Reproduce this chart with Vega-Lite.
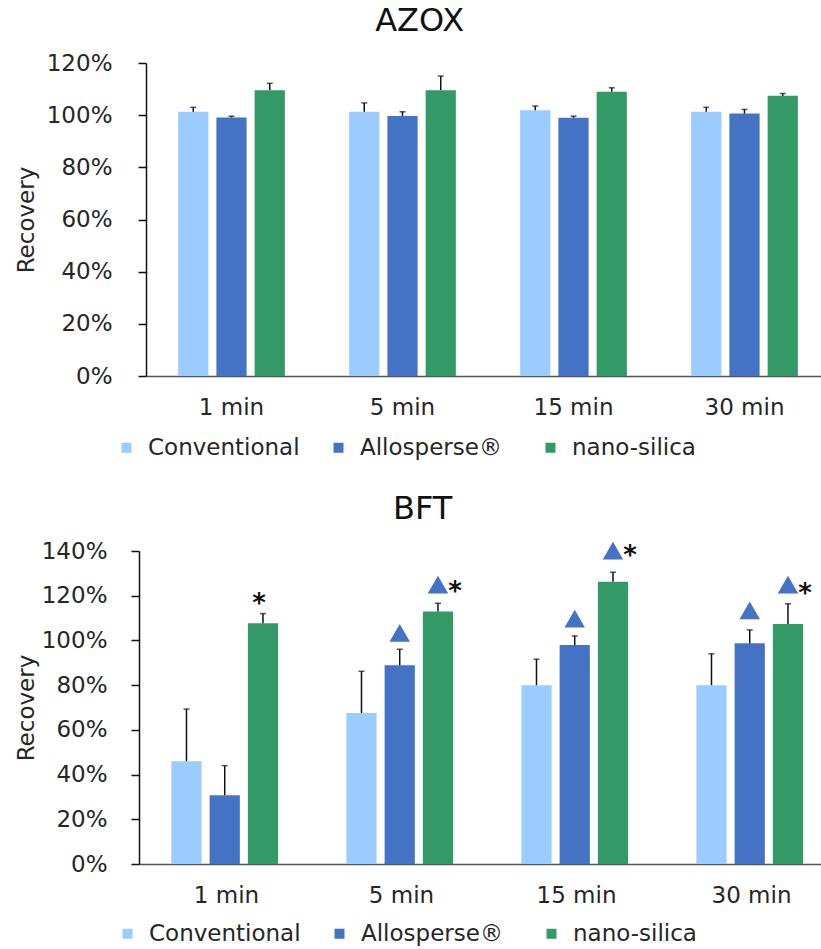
{
  "$schema": "https://vega.github.io/schema/vega-lite/v6.json",
  "background": "white",
  "padding": {"left": 15, "top": 5, "right": 0, "bottom": 0},
  "spacing": 33,
  "config": {
    "font": "DejaVu Sans",
    "view": {"stroke": null},
    "axisY": {
      "domainColor": "#111", "domainWidth": 1.5, "tickColor": "#111", "tickWidth": 1.5, "tickSize": 8,
      "labelFontSize": 23, "labelColor": "#262626", "grid": false,
      "titleFontSize": 23, "titleFontWeight": "normal", "titleColor": "#262626", "format": ".0%"
    },
    "axisX": {
      "domainColor": "#555", "domainWidth": 1.5, "ticks": false, "labelFontSize": 23, "labelColor": "#262626",
      "labelPadding": 20, "labelAngle": 0, "title": null, "grid": false
    },
    "legend": {
      "orient": "none", "direction": "horizontal", "columns": 3, "gridAlign": "all", "columnPadding": 27,
      "symbolType": "square", "symbolSize": 100, "symbolStrokeWidth": 0, "labelFontSize": 23, "labelOffset": 10,
      "labelColor": "#262626", "title": null
    },
    "title": {"fontSize": 32, "fontWeight": "normal", "color": "#111", "frame": "bounds", "anchor": "middle", "offset": 14}
  },
  "datasets": {
    "bars": [
      {"panel": "AZOX", "time": "1 min", "group": "Conventional", "recovery": 1.013, "upper": 1.03},
      {"panel": "AZOX", "time": "1 min", "group": "Allosperse®", "recovery": 0.991, "upper": 0.996},
      {"panel": "AZOX", "time": "1 min", "group": "nano-silica", "recovery": 1.096, "upper": 1.122},
      {"panel": "AZOX", "time": "5 min", "group": "Conventional", "recovery": 1.013, "upper": 1.047},
      {"panel": "AZOX", "time": "5 min", "group": "Allosperse®", "recovery": 0.997, "upper": 1.013},
      {"panel": "AZOX", "time": "5 min", "group": "nano-silica", "recovery": 1.096, "upper": 1.15},
      {"panel": "AZOX", "time": "15 min", "group": "Conventional", "recovery": 1.019, "upper": 1.035},
      {"panel": "AZOX", "time": "15 min", "group": "Allosperse®", "recovery": 0.99, "upper": 0.996},
      {"panel": "AZOX", "time": "15 min", "group": "nano-silica", "recovery": 1.09, "upper": 1.105},
      {"panel": "AZOX", "time": "30 min", "group": "Conventional", "recovery": 1.013, "upper": 1.03},
      {"panel": "AZOX", "time": "30 min", "group": "Allosperse®", "recovery": 1.006, "upper": 1.022},
      {"panel": "AZOX", "time": "30 min", "group": "nano-silica", "recovery": 1.074, "upper": 1.083},
      {"panel": "BFT", "time": "1 min", "group": "Conventional", "recovery": 0.46, "upper": 0.693},
      {"panel": "BFT", "time": "1 min", "group": "Allosperse®", "recovery": 0.308, "upper": 0.44},
      {"panel": "BFT", "time": "1 min", "group": "nano-silica", "recovery": 1.077, "upper": 1.12},
      {"panel": "BFT", "time": "5 min", "group": "Conventional", "recovery": 0.675, "upper": 0.862},
      {"panel": "BFT", "time": "5 min", "group": "Allosperse®", "recovery": 0.889, "upper": 0.96},
      {"panel": "BFT", "time": "5 min", "group": "nano-silica", "recovery": 1.129, "upper": 1.166},
      {"panel": "BFT", "time": "15 min", "group": "Conventional", "recovery": 0.8, "upper": 0.916},
      {"panel": "BFT", "time": "15 min", "group": "Allosperse®", "recovery": 0.979, "upper": 1.02},
      {"panel": "BFT", "time": "15 min", "group": "nano-silica", "recovery": 1.262, "upper": 1.305},
      {"panel": "BFT", "time": "30 min", "group": "Conventional", "recovery": 0.8, "upper": 0.94},
      {"panel": "BFT", "time": "30 min", "group": "Allosperse®", "recovery": 0.987, "upper": 1.047},
      {"panel": "BFT", "time": "30 min", "group": "nano-silica", "recovery": 1.074, "upper": 1.164}
    ],
    "markers": [
      {"time": "5 min", "group": "Allosperse®", "kind": "triangle", "y": 1.034},
      {"time": "15 min", "group": "Allosperse®", "kind": "triangle", "y": 1.098},
      {"time": "30 min", "group": "Allosperse®", "kind": "triangle", "y": 1.134},
      {"time": "5 min", "group": "nano-silica", "kind": "triangle", "y": 1.25},
      {"time": "15 min", "group": "nano-silica", "kind": "triangle", "y": 1.402},
      {"time": "30 min", "group": "nano-silica", "kind": "triangle", "y": 1.25},
      {"time": "1 min", "group": "nano-silica", "kind": "asterisk_alone", "y": 1.193},
      {"time": "5 min", "group": "nano-silica", "kind": "asterisk", "y": 1.25},
      {"time": "15 min", "group": "nano-silica", "kind": "asterisk", "y": 1.41},
      {"time": "30 min", "group": "nano-silica", "kind": "asterisk", "y": 1.237}
    ]
  },
  "resolve": {"scale": {"color": "independent"}, "legend": {"color": "independent"}},
  "vconcat": [
    {
      "title": {"text": "AZOX", "dx": -3},
      "width": 679,
      "height": 313,
      "data": {"name": "bars"},
      "transform": [{"filter": "datum.panel == 'AZOX'"}],
      "encoding": {
        "x": {"field": "time", "type": "nominal", "sort": ["1 min", "5 min", "15 min", "30 min"],
              "scale": {"range": [0, 684], "paddingInner": 0.376, "paddingOuter": 0.188}},
        "xOffset": {"field": "group", "type": "nominal",
                    "scale": {"domain": ["Conventional", "Allosperse®", "nano-silica"], "paddingInner": 0.21, "paddingOuter": 0}}
      },
      "layer": [
        {
          "mark": {"type": "bar"},
          "encoding": {
            "y": {"field": "recovery", "type": "quantitative", "scale": {"domain": [0, 1.2], "nice": false},
                  "axis": {"title": "Recovery", "values": [0, 0.2, 0.4, 0.6, 0.8, 1.0, 1.2], "labelPadding": 26, "titlePadding": 8}},
            "color": {"field": "group", "type": "nominal",
                      "scale": {"domain": ["Conventional", "Allosperse®", "nano-silica"], "range": ["#9CCBFF", "#4472C4", "#339966"]},
                      "legend": {"legendX": -31, "legendY": 373}}
          }
        },
        {
          "mark": {"type": "rule", "color": "#111", "strokeWidth": 1.5},
          "encoding": {"y": {"field": "recovery", "type": "quantitative"}, "y2": {"field": "upper"}}
        },
        {
          "mark": {"type": "tick", "color": "#111", "thickness": 1.5, "size": 6},
          "encoding": {"y": {"field": "upper", "type": "quantitative"}}
        }
      ]
    },
    {
      "title": {"text": "BFT", "dx": -8},
      "width": 679,
      "height": 313,
      "encoding": {
        "x": {"field": "time", "type": "nominal", "sort": ["1 min", "5 min", "15 min", "30 min"],
              "scale": {"range": [-7, 693], "paddingInner": 0.37, "paddingOuter": 0.185}},
        "xOffset": {"field": "group", "type": "nominal",
                    "scale": {"domain": ["Conventional", "Allosperse®", "nano-silica"], "paddingInner": 0.21, "paddingOuter": 0}}
      },
      "layer": [
        {
          "data": {"name": "bars"},
          "transform": [{"filter": "datum.panel == 'BFT'"}],
          "mark": {"type": "bar"},
          "encoding": {
            "y": {"field": "recovery", "type": "quantitative", "scale": {"domain": [0, 1.4], "nice": false},
                  "axis": {"title": "Recovery", "values": [0, 0.2, 0.4, 0.6, 0.8, 1.0, 1.2, 1.4], "labelPadding": 24, "titlePadding": 3, "offset": 7}},
            "color": {"field": "group", "type": "nominal",
                      "scale": {"domain": ["Conventional", "Allosperse®", "nano-silica"], "range": ["#9CCBFF", "#4472C4", "#339966"]},
                      "legend": {"legendX": -30, "legendY": 371}}
          }
        },
        {
          "data": {"name": "bars"},
          "transform": [{"filter": "datum.panel == 'BFT'"}],
          "mark": {"type": "rule", "color": "#111", "strokeWidth": 1.5},
          "encoding": {"y": {"field": "recovery", "type": "quantitative"}, "y2": {"field": "upper"}}
        },
        {
          "data": {"name": "bars"},
          "transform": [{"filter": "datum.panel == 'BFT'"}],
          "mark": {"type": "tick", "color": "#111", "thickness": 1.5, "size": 6},
          "encoding": {"y": {"field": "upper", "type": "quantitative"}}
        },
        {
          "data": {"name": "markers"},
          "transform": [{"filter": "datum.kind == 'triangle'"}],
          "mark": {"type": "point", "shape": "triangle-up", "filled": true, "color": "#4472C4", "size": 420, "opacity": 1},
          "encoding": {"y": {"field": "y", "type": "quantitative"}}
        },
        {
          "data": {"name": "markers"},
          "transform": [{"filter": "datum.kind == 'asterisk'"}],
          "mark": {"type": "text", "text": "*", "fontSize": 26, "fontWeight": "bold", "color": "#111", "dx": 17, "dy": 15, "baseline": "alphabetic"},
          "encoding": {"y": {"field": "y", "type": "quantitative"}}
        },
        {
          "data": {"name": "markers"},
          "transform": [{"filter": "datum.kind == 'asterisk_alone'"}],
          "mark": {"type": "text", "text": "*", "fontSize": 26, "fontWeight": "bold", "color": "#111", "dx": -4, "dy": 15, "baseline": "alphabetic"},
          "encoding": {"y": {"field": "y", "type": "quantitative"}}
        }
      ]
    }
  ]
}
